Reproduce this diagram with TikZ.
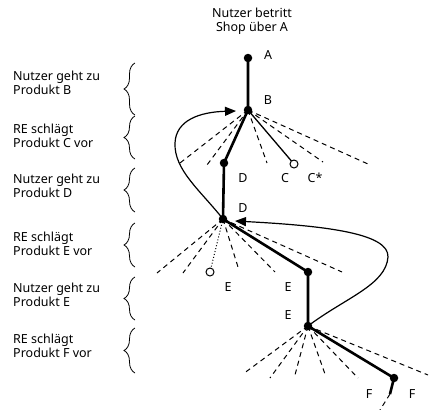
\documentclass[tikz,border=0pt]{standalone}
\usepackage{fontspec}
\setmainfont{Noto Sans}
\usetikzlibrary{arrows.meta,decorations.pathreplacing}
\begin{document}
\begin{tikzpicture}[x=1pt,y=-1pt,
  txt/.style={font=\fontsize{12.5}{14}\selectfont, inner sep=0pt},
  lbl/.style={txt, align=left, anchor=west},
  dot/.style={circle, fill=black, inner sep=0pt, minimum size=8.5pt},
  odot/.style={circle, draw=black, fill=white, line width=1pt, inner sep=0pt, minimum size=8pt},
  thickline/.style={line width=2.6pt},
  thinline/.style={line width=1.3pt},
  dashline/.style={line width=1pt, dash pattern=on 5pt off 4pt},
  dotline/.style={line width=1pt, dotted},
  curvearrow/.style={line width=1.2pt, -{Triangle[length=11pt,width=9pt]}},
  brc/.style={decorate, decoration={brace, amplitude=11pt}, line width=0.8pt}
]
\useasboundingbox (0,0) rectangle (432,410);

% positions
\coordinate (pA) at (248,58);
\coordinate (pB) at (248,110);
\coordinate (pD1) at (224,163);
\coordinate (pC) at (294,164);
\coordinate (pD2) at (223,219);
\coordinate (pEo) at (210,272);
\coordinate (pE1) at (308,272);
\coordinate (pE2) at (308,326);
\coordinate (pF) at (394,378);

% fan ends
\coordinate (b1) at (180,163);
\coordinate (b2) at (207,165);
\coordinate (b3) at (267,163);
\coordinate (b4) at (323,162);
\coordinate (b5) at (368,164);
\coordinate (d1) at (157,273);
\coordinate (d2) at (183,273);
\coordinate (d3) at (238,267);
\coordinate (d4) at (275,272);
\coordinate (d5) at (342,272);
\coordinate (e1) at (243,374);
\coordinate (e2) at (270,378);
\coordinate (e3) at (295,375);
\coordinate (e4) at (325,374);
\coordinate (e5) at (358,378);
\coordinate (e6) at (428,375);
\coordinate (f1) at (390,394);
\coordinate (f2) at (380,410);

% dashed fans
\foreach \p in {b1,b2,b3,b4,b5} \draw[dashline] (pB) -- (\p);
\foreach \p in {d1,d2,d3,d4,d5} \draw[dashline] (pD2) -- (\p);
\foreach \p in {e1,e2,e3,e4,e5,e6} \draw[dashline] (pE2) -- (\p);
\draw[dotline] (pD2) -- (pEo);
\draw[thinline] (pB) -- (pC);

% thick path
\draw[thickline] (pA) -- (pB) -- (pD1) -- (pD2) -- (pE1) -- (pE2) -- (pF) -- (f1);
\draw[dashline] (f1) -- (f2);

% curves
\draw[curvearrow] (pD2) .. controls (200,190) and (174,170) .. (175,143)
   .. controls (176,120) and (200,112) .. (236,111);
\draw[curvearrow] (pE2) .. controls (345,298) and (386,285) .. (388,257)
   .. controls (389,234) and (330,226) .. (235,221);

% dots
\node[dot] (A) at (pA) {};
\node[dot] (B) at (pB) {};
\node[dot] (D1) at (pD1) {};
\node[odot] (C) at (pC) {};
\node[dot] (D2) at (pD2) {};
\node[odot] (Eo) at (pEo) {};
\node[dot] (E1) at (pE1) {};
\node[dot] (E2) at (pE2) {};
\node[dot] (F) at (pF) {};

% node labels
\node[txt] (lA) at (268,55) {A};
\node[txt] (lB) at (268,100) {B};
\node[txt] (lD1) at (243,178) {D};
\node[txt] (lC) at (285,178) {C};
\node[txt] (lCs) at (315,178) {C*};
\node[txt] (lD2) at (243,208) {D};
\node[txt] (lEo) at (228,287) {E};
\node[txt] (lE1) at (288,287) {E};
\node[txt] (lE2) at (288,315) {E};
\node[txt] (lF1) at (369,394) {F};
\node[txt] (lF2) at (412,394) {F};

% title
\node[txt, align=center] (title) at (252,21) {Nutzer betritt\\Shop über A};

% left labels
\node[lbl] (L1) at (13,83) {Nutzer geht zu\\Produkt B};
\node[lbl] (L2) at (13,136) {RE schlägt\\Produkt C vor};
\node[lbl] (L3) at (13,186) {Nutzer geht zu\\Produkt D};
\node[lbl] (L4) at (13,244) {RE schlägt\\Produkt E vor};
\node[lbl] (L5) at (13,295) {Nutzer geht zu\\Produkt E};
\node[lbl] (L6) at (13,346) {RE schlägt\\Produkt F vor};

% braces
\draw[brc] (135,115) -- (135,63);
\draw[brc] (135,159) -- (135,116);
\draw[brc] (135,212) -- (135,168);
\draw[brc] (135,267) -- (135,223);
\draw[brc] (135,320) -- (135,277);
\draw[brc] (135,373) -- (135,328);
\end{tikzpicture}
\end{document}
